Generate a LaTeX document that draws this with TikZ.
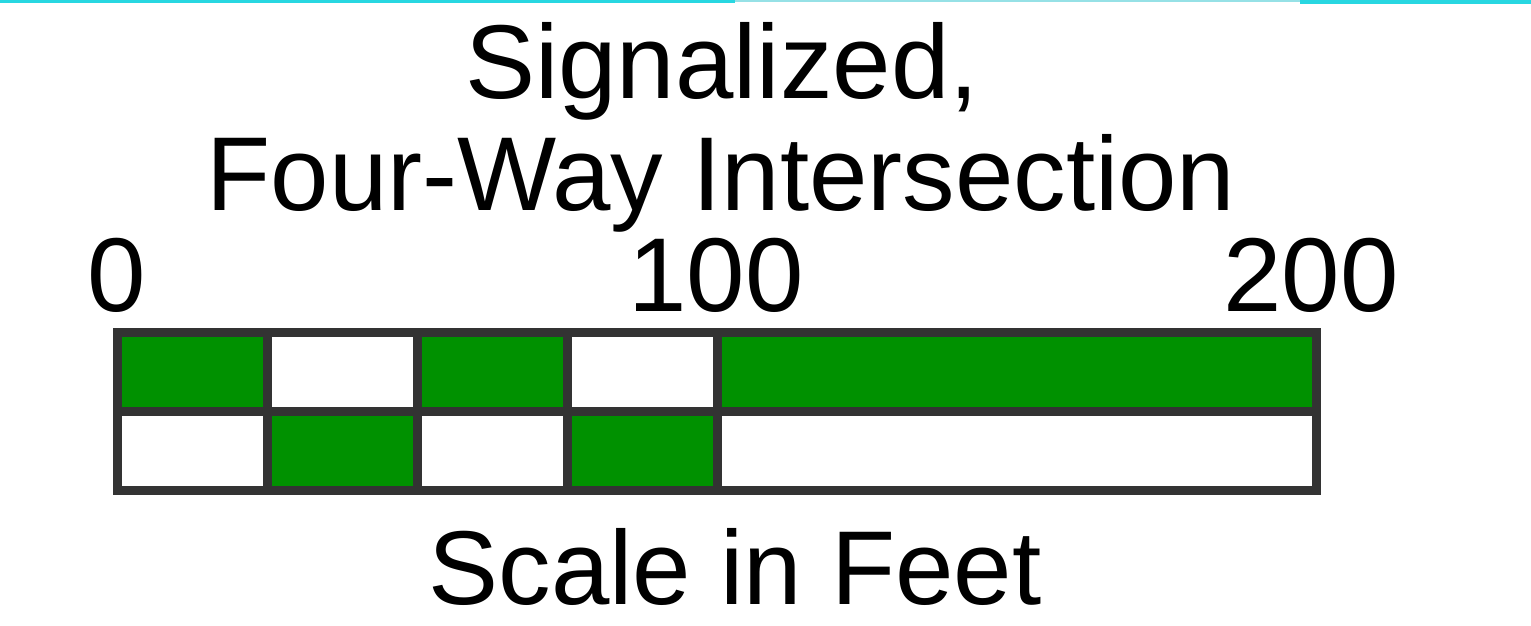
\documentclass[tikz,border=0pt]{standalone}
\usepackage{fontspec}
\setmainfont{Liberation Sans}
\definecolor{bargreen}{RGB}{0,145,0}
\definecolor{barline}{RGB}{51,51,51}
\definecolor{topcyan}{RGB}{40,215,225}
\definecolor{palecyan}{RGB}{150,225,230}
\begin{document}
\begin{tikzpicture}[x=1pt,y=-1pt,
  cell/.style={draw=barline,line width=9pt,rectangle,inner sep=0pt,minimum height=79pt},
  gcell/.style={cell,fill=bargreen},
  wcell/.style={cell,fill=white},
  lbl/.style={anchor=base,inner sep=0pt,font=\fontsize{105}{112}\selectfont}]
\useasboundingbox (0,0) rectangle (1531,626);
\fill[white] (0,0) rectangle (1531,626);
% top cyan edge
\fill[topcyan] (0,0) rectangle (735,3);
\fill[palecyan] (735,0) rectangle (1300,2.5);
\fill[topcyan] (1300,0) rectangle (1531,4);
% texts
\node[lbl] (t1) at (722,98) {Signalized,};
\node[lbl] (t2) at (721,210) {Four-Way Intersection};
\node[lbl] (n0) at (117,311) {0};
\node[lbl] (n100) at (716,311) {100};
\node[lbl] (n200) at (1311,311) {200};
\node[lbl] (sc) at (735,604) {Scale in Feet};
% bar cells
\node[gcell,minimum width=150pt] (a1) at (192,371.5) {};
\node[wcell,minimum width=150pt] (a2) at (342,371.5) {};
\node[gcell,minimum width=150pt] (a3) at (492,371.5) {};
\node[wcell,minimum width=150pt] (a4) at (642,371.5) {};
\node[gcell,minimum width=599pt] (a5) at (1016.5,371.5) {};
\node[wcell,minimum width=150pt] (b1) at (192,450.5) {};
\node[gcell,minimum width=150pt] (b2) at (342,450.5) {};
\node[wcell,minimum width=150pt] (b3) at (492,450.5) {};
\node[gcell,minimum width=150pt] (b4) at (642,450.5) {};
\node[wcell,minimum width=599pt] (b5) at (1016.5,450.5) {};
\end{tikzpicture}
\end{document}
